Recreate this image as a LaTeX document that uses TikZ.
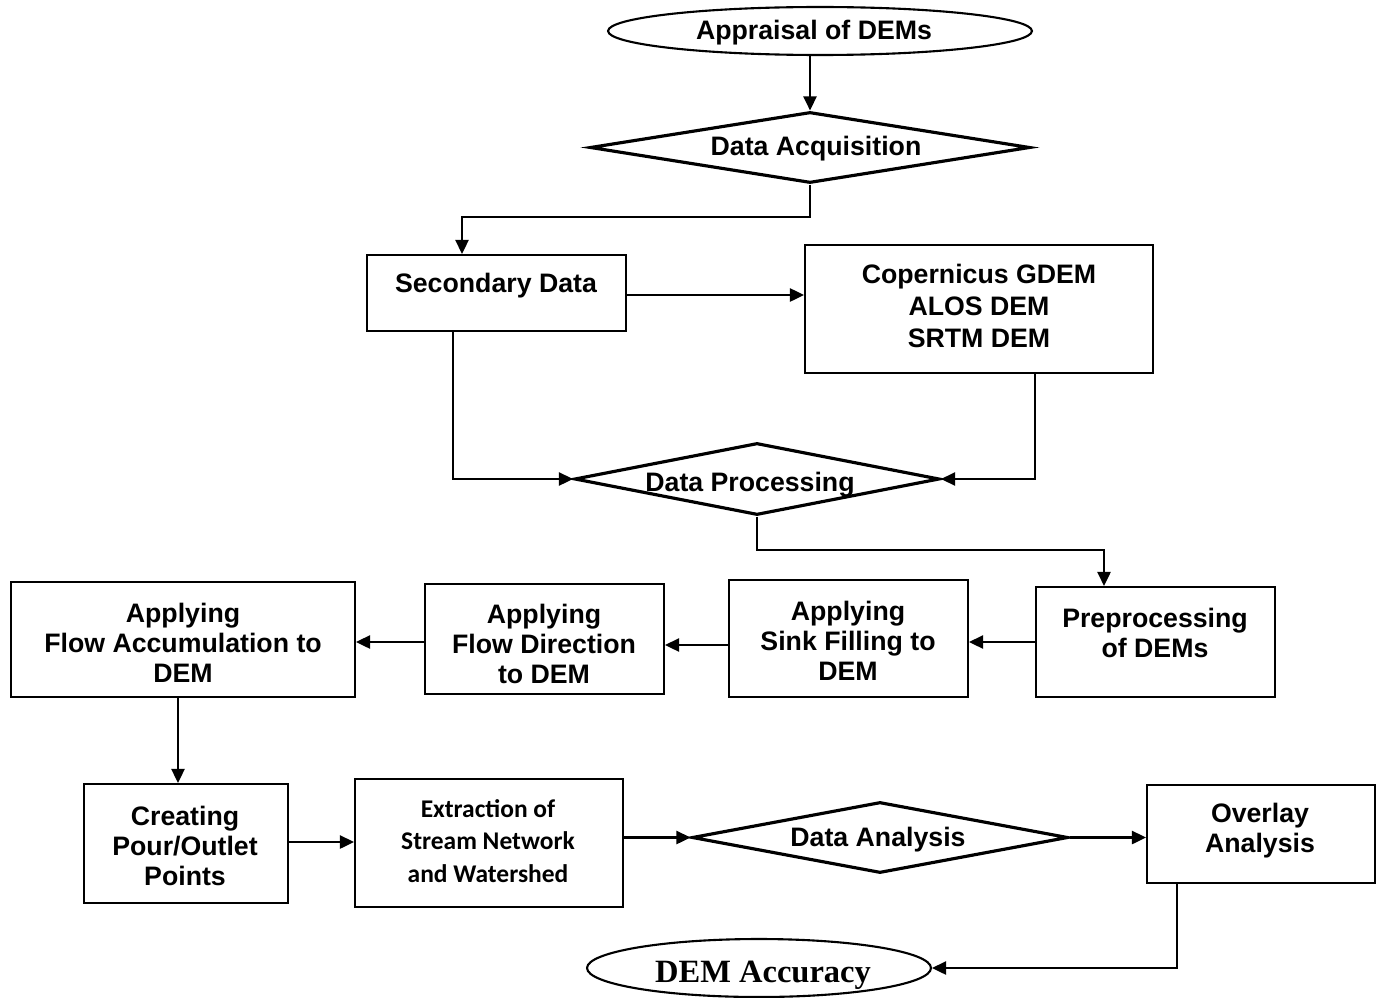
\documentclass[tikz,border=0pt]{standalone}
\usepackage{fontspec}
\setmainfont{Liberation Sans}
\newfontfamily\calibfont{Carlito}
\newfontfamily\timesfont{Liberation Serif}
\usetikzlibrary{shapes.geometric,arrows.meta}
\tikzset{
  boxnode/.style={draw, rectangle, line width=1.2pt, inner sep=0pt},
  dianode/.style={draw, diamond, line width=1.8pt, inner sep=0pt},
  ellnode/.style={draw, ellipse, line width=1.2pt, inner sep=0pt},
  txt/.style={align=center, font=\fontsize{15.2}{17}\selectfont\bfseries, inner sep=0pt, yshift=-1.6pt},
  txtc/.style={align=center, font=\calibfont\fontsize{14.5}{18.5}\selectfont\bfseries, inner sep=0pt},
  txtt/.style={align=center, font=\timesfont\fontsize{18.5}{20}\selectfont\bfseries, inner sep=0pt, yshift=-1.6pt},
  arr/.style={line width=1.2pt, -{Triangle[length=8pt,width=7.5pt]}},
  ln/.style={line width=1.2pt}
}
\begin{document}
\begin{tikzpicture}[x=0.02cm,y=-0.02cm]
\useasboundingbox (0,0) rectangle (1381,997);
\fill[white] (0,0) rectangle (1381,997);
\begin{scope}
\clip (0,0) rectangle (1381,997);
% shapes
\node[ellnode, minimum width=8.48cm, minimum height=0.96cm] (app) at (820,31) {};
\node[txt] (tapp) at (814,30) {Appraisal of DEMs};

\node[dianode, minimum width=8.8cm, minimum height=1.42cm] (acq) at (810,147.5) {};
\node[txt] (tacq) at (816,146) {Data Acquisition};

\node[boxnode, minimum width=5.18cm, minimum height=1.52cm] (sec) at (496.5,293) {};
\node[txt] (tsec) at (496,283) {Secondary Data};

\node[boxnode, minimum width=6.96cm, minimum height=2.56cm] (cop) at (979,309) {};
\node[txt, font=\fontsize{15.2}{18.3}\selectfont\bfseries] (tcop) at (979,303) {Copernicus GDEM\\ALOS DEM\\SRTM DEM};

\node[dianode, minimum width=7.3cm, minimum height=1.44cm] (proc) at (757,479) {};
\node[txt] (tproc) at (750,482) {Data Processing};

\node[boxnode, minimum width=4.78cm, minimum height=2.2cm] (pre) at (1155.5,642) {};
\node[txt] (tpre) at (1155,630) {Preprocessing\\of DEMs};

\node[boxnode, minimum width=4.78cm, minimum height=2.34cm] (sink) at (848.5,638.5) {};
\node[txt] (tsink) at (848,638) {Applying\\Sink Filling to\\DEM};

\node[boxnode, minimum width=4.78cm, minimum height=2.2cm] (fdir) at (544.5,639) {};
\node[txt] (tfdir) at (544,641) {Applying\\Flow Direction\\to DEM};

\node[boxnode, minimum width=6.88cm, minimum height=2.3cm] (facc) at (183,639.5) {};
\node[txt] (tfacc) at (183,640) {Applying\\Flow Accumulation to\\DEM};

\node[boxnode, minimum width=4.08cm, minimum height=2.38cm] (pour) at (186,843.5) {};
\node[txt] (tpour) at (185,843) {Creating\\Pour/Outlet\\Points};

\node[boxnode, minimum width=5.36cm, minimum height=2.56cm] (ext) at (489,843) {};
\node[txtc] (text) at (488,841) {Extraction of\\Stream Network\\and Watershed};

\node[dianode, minimum width=7.52cm, minimum height=1.42cm] (ana) at (880,837.5) {};
\node[txt] (tana) at (878,837) {Data Analysis};

\node[boxnode, minimum width=4.56cm, minimum height=1.96cm] (ovl) at (1261,834) {};
\node[txt] (tovl) at (1260,828) {Overlay\\Analysis};

\node[ellnode, minimum width=6.88cm, minimum height=1.16cm] (acc) at (759,968) {};
\node[txtt] (tacc) at (763,972) {DEM Accuracy};

% connectors
\coordinate (k1) at (462,217);
\coordinate (k2) at (453,479);
\coordinate (k3) at (1035,479);
\coordinate (k4) at (1104,550);

\draw[arr] (app.south -| acq.north) -- (acq.north);
\draw[arr] (acq.south) |- (k1) -- (k1 |- sec.north);
\draw[arr] (sec.east |- 0,295) -- (cop.west |- 0,295);
\draw[arr] (sec.south -| k2) -- (k2) -- (proc.west);
\draw[arr] (cop.south -| k3) -- (k3) -- (proc.east);
\draw[arr] (proc.south) |- (k4) -- (k4 |- pre.north);
\draw[arr] (pre.west) -- (pre.west -| sink.east);
\draw[arr] (sink.west |- 0,645) -- (fdir.east |- 0,645);
\draw[arr] (fdir.west |- 0,642) -- (facc.east |- 0,642);
\draw[arr] (facc.south -| 178,0) -- (pour.north -| 178,0);
\draw[arr] (pour.east |- 0,842) -- (ext.west |- 0,842);
\draw[arr] (ext.east |- ana.west) -- (ana.west);
\draw[arr] (ana.east) -- (ana.east -| ovl.west);
\draw[arr] (ovl.south -| 1177,0) |- (acc.east);
\end{scope}
\end{tikzpicture}
\end{document}
